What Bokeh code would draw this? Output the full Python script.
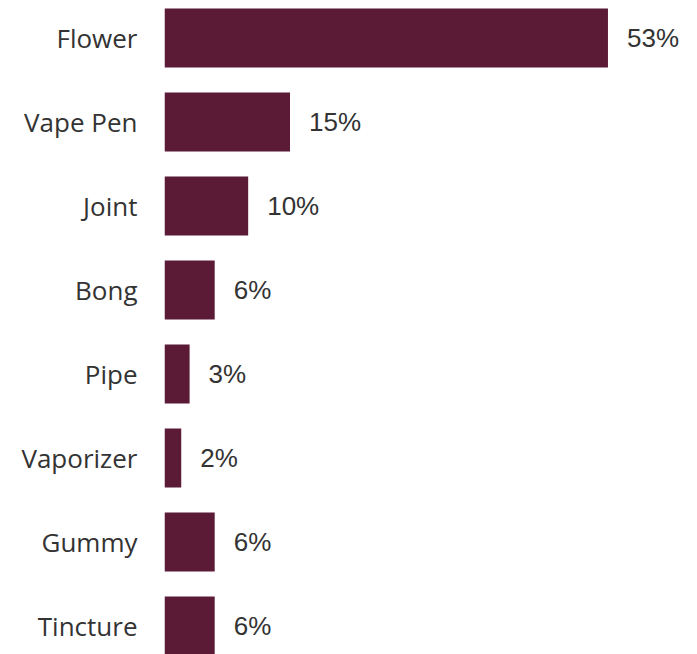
import numpy as np
from bokeh.plotting import figure
from bokeh.models import ColumnDataSource, Range1d, FixedTicker
from bokeh.core.properties import value
from bokeh.embed import file_html
from bokeh.resources import INLINE

categories = ["Flower", "Vape Pen", "Joint", "Bong", "Pipe", "Vaporizer", "Gummy", "Tincture"]
shares = [53, 15, 10, 6, 3, 2, 6, 6]
value_labels = ["53%", "15%", "10%", "6%", "3%", "2%", "6%", "6%"]

BAR = "#5b1b36"
TXT = "#333333"

pos = list(range(len(categories)))
src = ColumnDataSource(dict(y=pos, v=shares, lab=value_labels))

p = figure(width=697, height=654, output_backend="svg", toolbar_location=None,
           x_range=Range1d(0, 63.7),
           y_range=Range1d(len(categories) - 1 + 28.5 / 84, -37.5 / 84),
           min_border_left=164, min_border_right=0, min_border_top=0, min_border_bottom=0)

p.hbar(y="y", right="v", left=0, height=0.70, source=src, color=BAR, line_color=None)
p.text(x="v", y="y", text="lab", source=src, x_offset=19, text_baseline="middle",
       text_align="left", text_font=value("Liberation Sans"), text_font_size="26px",
       text_color=TXT)

p.xaxis.visible = False
yax = p.yaxis[0]
yax.ticker = FixedTicker(ticks=pos)
yax.major_label_overrides = {i: c for i, c in enumerate(categories)}
yax.major_label_text_font = "Open Sans"
yax.major_label_text_font_size = "26px"
yax.major_label_text_color = TXT
yax.major_label_standoff = 27
yax.major_tick_out = 0
yax.major_tick_in = 0
yax.minor_tick_out = 0
yax.minor_tick_in = 0
yax.axis_line_color = None

p.xgrid.visible = False
p.ygrid.visible = False
p.outline_line_color = None

open("out.html", "w").write(file_html(p, INLINE))
